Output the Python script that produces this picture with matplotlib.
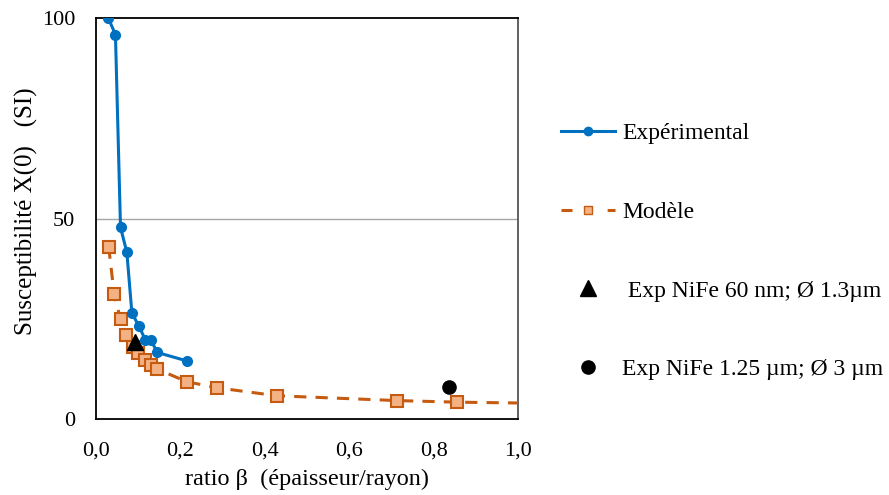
import matplotlib
matplotlib.use("Agg")
import matplotlib.pyplot as plt
from matplotlib.lines import Line2D

plt.rcParams['font.family'] = ['Liberation Serif', 'DejaVu Serif']

exp_x = [0.029, 0.046, 0.058, 0.073, 0.085, 0.101, 0.117, 0.130, 0.145, 0.215]
exp_y = [100.0, 95.9, 47.8, 41.6, 26.4, 23.3, 19.7, 19.7, 16.6, 14.5]

mod_x = [0.030, 0.043, 0.058, 0.071, 0.087, 0.0995, 0.115, 0.130, 0.144, 0.215,
         0.286, 0.428, 0.712, 0.855, 1.14]
mod_y = [43.0, 31.1, 24.9, 20.9, 18.0, 16.4, 14.7, 13.5, 12.5, 9.3,
         7.8, 5.8, 4.6, 4.2, 3.8]

tri_x = [0.093]
tri_y = [19.3]
circ_x = [0.835]
circ_y = [7.9]

xticks = [0.0, 0.2, 0.4, 0.6, 0.8, 1.0]
xticklabels = ["0,0", "0,2", "0,4", "0,6", "0,8", "1,0"]
yticks = [0, 50, 100]

labels = ["Expérimental", "Modèle", " Exp NiFe 60 nm; Ø 1.3µm",
          "Exp NiFe 1.25 µm; Ø 3 µm"]

blue = "#0070C0"
orange_edge = "#C55A11"
orange_fill = "#F4B183"

fig = plt.figure(figsize=(8.89, 4.95), dpi=100)
ax = fig.add_axes([0.108, 0.1535, 0.475, 0.81])

ax.axhline(50, color="#A6A6A6", lw=1.0, zorder=0)

ax.plot(exp_x, exp_y, color=blue, lw=2.2, marker='o', ms=7,
        markerfacecolor=blue, markeredgecolor=blue, zorder=4)
ax.plot(mod_x, mod_y, color=orange_edge, lw=2.2, ls=(0, (4, 3)),
        marker='s', ms=8.5, markerfacecolor=orange_fill,
        markeredgecolor=orange_edge, markeredgewidth=1.5, zorder=3)
ax.plot(tri_x, tri_y, ls='none', marker='^', ms=11, color='black', zorder=5)
ax.plot(circ_x, circ_y, ls='none', marker='o', ms=9.5, color='black', zorder=5)

ax.set_xlim(0, 1.0)
ax.set_ylim(0, 100)
ax.set_xticks(xticks)
ax.set_xticklabels(xticklabels)
ax.set_yticks(yticks)
ax.tick_params(length=0, labelsize=16)
ax.tick_params(axis='x', pad=16)
ax.tick_params(axis='y', pad=15)
for s in ax.spines.values():
    s.set_color('black')
    s.set_linewidth(1.3)
ax.spines['right'].set_color('#555555')

ax.set_xlabel("ratio β  (épaisseur/rayon)", fontsize=17.5, labelpad=6)
ax.set_ylabel("Susceptibilité X(0)   (SI)", fontsize=18)
ax.yaxis.set_label_coords(-0.137, 0.519)

h1 = Line2D([], [], color=blue, lw=2.2, marker='o', ms=6)
h2 = Line2D([], [], color=orange_edge, lw=2.2, ls=(0, (3.6, 11.5)), marker='s', ms=6,
            markerfacecolor=orange_fill, markeredgecolor=orange_edge)
h3 = Line2D([], [], ls='none', marker='^', ms=11, color='black')
h4 = Line2D([], [], ls='none', marker='o', ms=9.5, color='black')
leg = fig.legend([h1, h2, h3, h4], labels,
                 loc='upper left', bbox_to_anchor=(0.620, 0.771),
                 frameon=False, fontsize=17, labelspacing=2.42,
                 handlelength=2.3, handletextpad=0.3, borderaxespad=0)

fig.savefig("out.png", dpi=100)
